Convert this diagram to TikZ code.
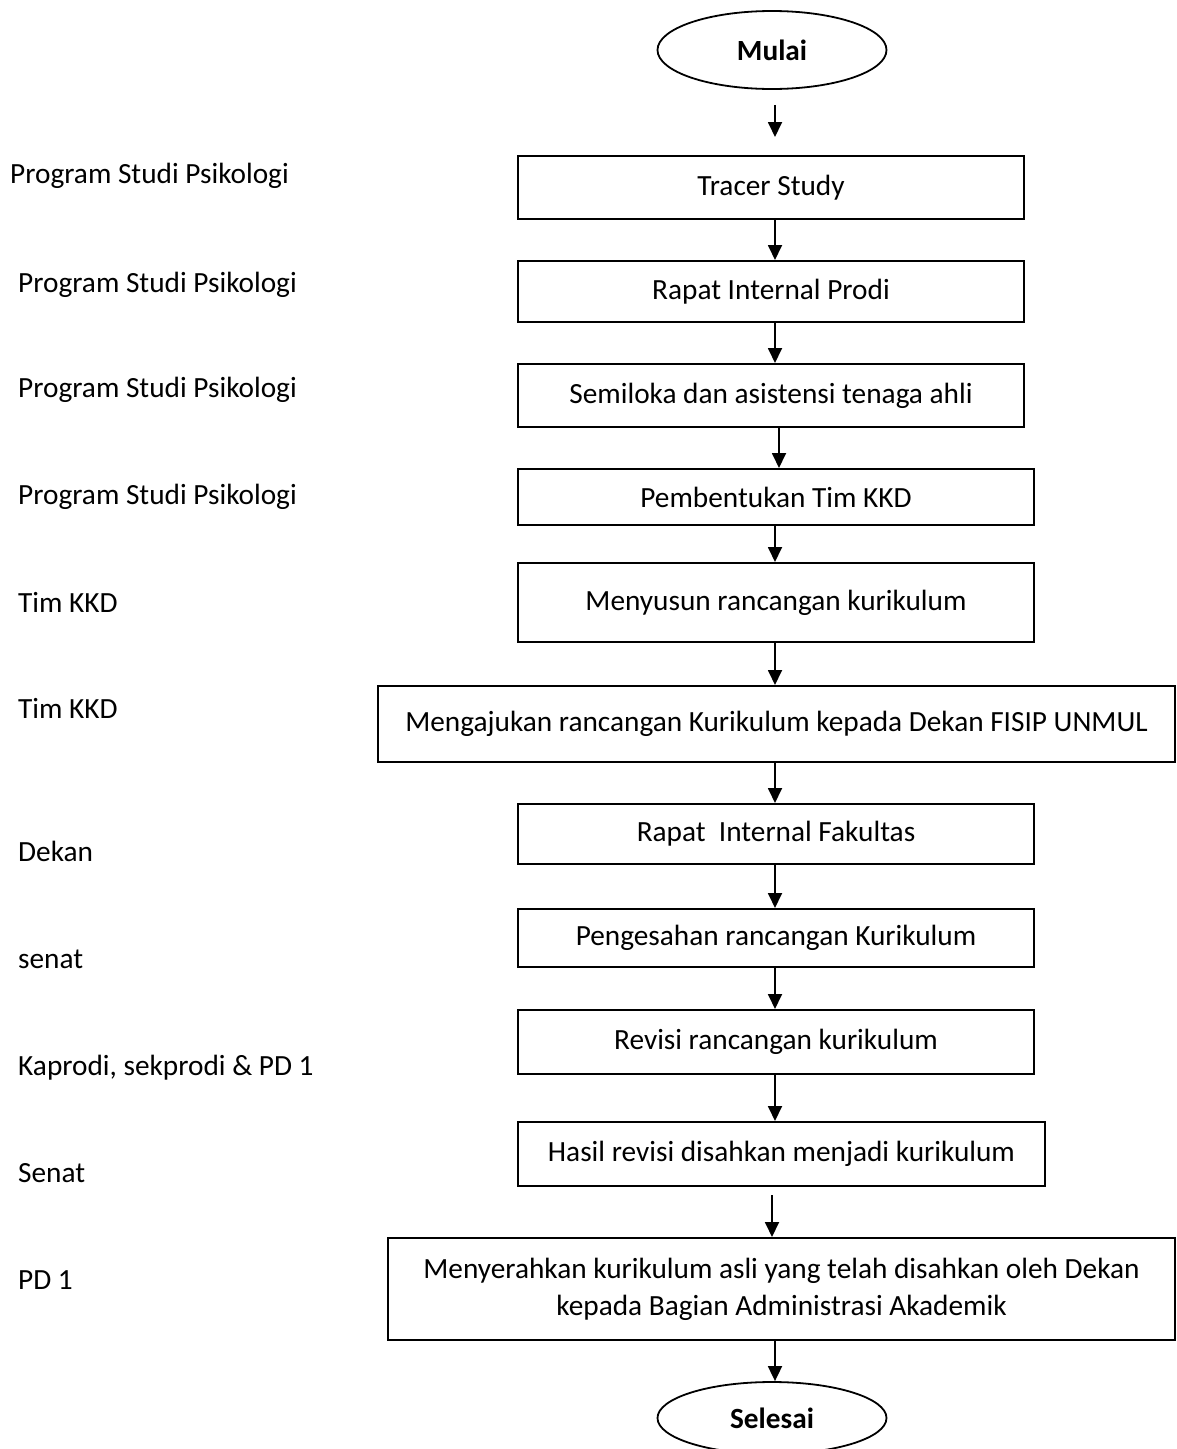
\documentclass[tikz,border=0pt]{standalone}
\usepackage{fontspec}
\setmainfont{Carlito}
\usetikzlibrary{shapes.geometric,arrows.meta}
\tikzset{
  kasten/.style={draw, line width=2pt, inner sep=0pt, align=center},
  oval/.style={draw, ellipse, line width=1.8pt, inner sep=0pt, font=\fontsize{29.3}{37}\selectfont\bfseries},
  pfeil/.style={line width=1.8pt, -{Triangle[length=15pt,width=14pt]}},
  links/.style={anchor=base west, inner sep=0pt},
}
\begin{document}
\begin{tikzpicture}[x=1pt, y=-1pt, font=\fontsize{29.3}{37}\selectfont]
			\useasboundingbox (0, 0) rectangle (1176, 1449);
			\coordinate (achse) at (775, 0);
			% Anfang und Ende
			\node [oval, minimum width=229pt, minimum height=78pt] (mulai) at (772, 50) {Mulai};
			\node [oval, minimum width=229pt, minimum height=72pt] (selesai) at (772, 1418) {Selesai};
			% Schritte
			\node [kasten, minimum width=506pt, minimum height=63pt] (tracer) at (771, 187.5) {Tracer Study};
			\node [kasten, minimum width=506pt, minimum height=61pt] (rapatprodi) at (771, 291.5) {Rapat Internal Prodi};
			\node [kasten, minimum width=506pt, minimum height=63pt] (semiloka) at (771, 395.5) {Semiloka dan asistensi tenaga ahli};
			\node [kasten, minimum width=516pt, minimum height=56pt] (timkkd) at (776, 497) {Pembentukan Tim KKD};
			\node [kasten, minimum width=516pt, minimum height=79pt] (menyusun) at (776, 602.5) {Menyusun rancangan kurikulum};
			\node [kasten, minimum width=797pt, minimum height=76pt] (mengajukan) at (776.5, 724) {Mengajukan rancangan Kurikulum kepada Dekan FISIP UNMUL};
			\node [kasten, minimum width=516pt, minimum height=60pt] (rapatfak) at (776, 834) {Rapat~~Internal Fakultas};
			\node [kasten, minimum width=516pt, minimum height=58pt] (pengesahan) at (776, 938) {Pengesahan rancangan Kurikulum};
			\node [kasten, minimum width=516pt, minimum height=64pt] (revisi) at (776, 1042) {Revisi rancangan kurikulum};
			\node [kasten, minimum width=527pt, minimum height=64pt] (hasil) at (781.5, 1154) {Hasil revisi disahkan menjadi kurikulum};
			\node [kasten, minimum width=787pt, minimum height=102pt] (menyerahkan) at (781.5, 1289) {Menyerahkan kurikulum asli yang telah disahkan oleh Dekan\\kepada Bagian Administrasi Akademik};
			% Beschriftung links
			\node [links] (l1) at (10, 183) {Program Studi Psikologi};
			\node [links] (l2) at (18, 292) {Program Studi Psikologi};
			\node [links] (l3) at (18, 397) {Program Studi Psikologi};
			\node [links] (l4) at (18, 504) {Program Studi Psikologi};
			\node [links] (l5) at (18, 612) {Tim KKD};
			\node [links] (l6) at (18, 718) {Tim KKD};
			\node [links] (l7) at (18, 861) {Dekan};
			\node [links] (l8) at (18, 968) {senat};
			\node [links] (l9) at (18, 1075) {Kaprodi, sekprodi \& PD 1};
			\node [links] (l10) at (18, 1182) {Senat};
			\node [links] (l11) at (18, 1289) {PD 1};
			% Pfeile
			\draw [pfeil] ([yshift=-15pt]mulai.south -| achse) -- ([yshift=18pt]tracer.north -| achse);
			\draw [pfeil] (tracer.south -| achse) -- (rapatprodi.north -| achse);
			\draw [pfeil] (rapatprodi.south -| achse) -- (semiloka.north -| achse);
			\draw [pfeil] ([xshift=4pt]semiloka.south -| achse) -- ([xshift=4pt]timkkd.north -| achse);
			\draw [pfeil] (timkkd.south -| achse) -- (menyusun.north -| achse);
			\draw [pfeil] (menyusun.south -| achse) -- (mengajukan.north -| achse);
			\draw [pfeil] (mengajukan.south -| achse) -- (rapatfak.north -| achse);
			\draw [pfeil] (rapatfak.south -| achse) -- (pengesahan.north -| achse);
			\draw [pfeil] (pengesahan.south -| achse) -- (revisi.north -| achse);
			\draw [pfeil] (revisi.south -| achse) -- (hasil.north -| achse);
			\draw [pfeil] ([xshift=-3pt, yshift=-8pt]hasil.south -| achse) -- ([xshift=-3pt]menyerahkan.north -| achse);
			\draw [pfeil] (menyerahkan.south -| achse) -- (selesai.north -| achse);
\end{tikzpicture}
\end{document}
